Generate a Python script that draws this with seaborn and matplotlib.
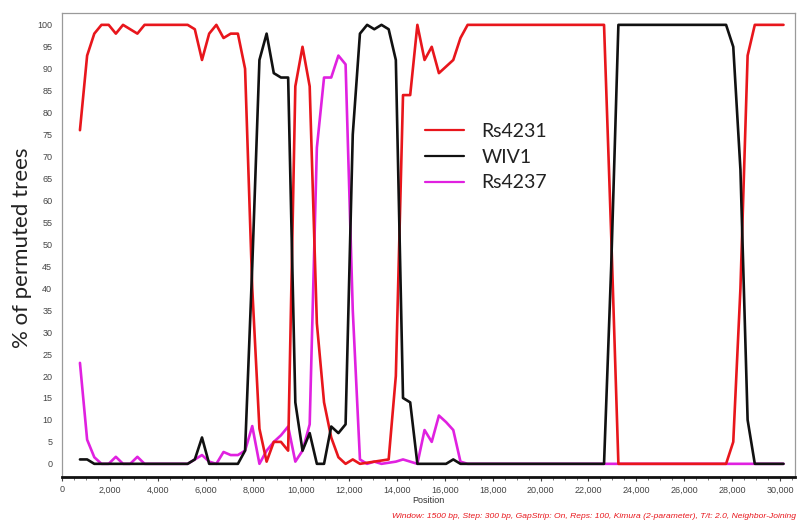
import pandas as pd
import matplotlib.pyplot as plt
import matplotlib.ticker as mticker
import seaborn as sns

RS4231_POS = [750, 1050, 1350, 1650, 1950, 2250, 2550, 2850, 3150, 3450,
              5250, 5550, 5850, 6150, 6450, 6750, 7050, 7350, 7650, 7950,
              8250, 8550, 8850, 9150, 9450, 9750, 10050, 10350, 10650, 10950,
              11250, 11550, 11850, 12150, 12450, 13650, 13950, 14250, 14550, 14850,
              15150, 15450, 15750, 16050, 16350, 16650, 16950, 22650, 22950, 23250,
              27750, 28050, 28350, 28650, 28950, 30150]
RS4231_VAL = [76, 93, 98, 100, 100, 98, 100, 99, 98, 100,
              100, 99, 92, 98, 100, 97, 98, 98, 90, 40,
              8, 0.5, 5, 5, 3, 86, 95, 86, 32, 14,
              6, 1.5, 0, 1, 0, 1, 20, 84, 84, 100,
              92, 95, 89, 90.5, 92, 97, 100, 100, 52, 0,
              0, 5, 40, 93, 100, 100]

WIV1_POS = [750, 1050, 1350, 5250, 5550, 5850, 6150, 7350, 7650, 7950,
            8250, 8550, 8850, 9150, 9450, 9750, 10050, 10350, 10650, 10950,
            11250, 11550, 11850, 12150, 12450, 12750, 13050, 13350, 13650, 13950,
            14250, 14550, 14850, 16050, 16350, 16650, 22650, 22950, 23250, 27750,
            28050, 28350, 28650, 28950, 30150]
WIV1_VAL = [1, 1, 0, 0, 1, 6, 0, 0, 3, 45,
            92, 98, 89, 88, 88, 14, 3, 7, 0, 0,
            8.5, 7, 9, 75, 98, 100, 99, 100, 99, 92,
            15, 14, 0, 0, 1, 0, 0, 45, 100, 100,
            95, 67, 10, 0, 0]

RS4237_POS = [750, 1050, 1350, 1650, 1950, 2250, 2550, 2850, 3150, 3450,
              5250, 5550, 5850, 6150, 6450, 6750, 7050, 7350, 7650, 7950,
              8250, 8550, 8850, 9150, 9450, 9750, 10050, 10350, 10650, 10950,
              11250, 11550, 11850, 12150, 12450, 12750, 13050, 13350, 13950, 14250,
              14550, 14850, 15150, 15450, 15750, 16050, 16350, 16650, 16950, 30150]
RS4237_VAL = [23, 5.5, 1.5, 0, 0, 1.6, 0, 0, 1.6, 0,
              0, 1, 2, 0.5, 0, 2.7, 2, 2, 3, 8.6,
              0, 3, 5, 6.5, 8.5, 0.5, 3, 9, 72, 88,
              88, 93, 91, 35, 1, 0, 0.5, 0, 0.5, 1,
              0.5, 0, 7.7, 5, 11, 9.5, 7.7, 0.5, 0, 0]

SERIES = ["Rs4231", "WIV1", "Rs4237"]
COLORS = {"Rs4231": "#e8161c", "WIV1": "#111111", "Rs4237": "#e021e0"}
X_TICKS = list(range(0, 30001, 2000))
Y_TICKS = list(range(0, 101, 5))
FOOTER = ("Window: 1500 bp, Step: 300 bp, GapStrip: On, Reps: 100, "
          "Kimura (2-parameter), T/t: 2.0, Neighbor-Joining")
# ==================================================================


def build_frame():
    parts = [
        pd.DataFrame({"Position": RS4231_POS, "Pct": RS4231_VAL, "Seq": "Rs4231"}),
        pd.DataFrame({"Position": WIV1_POS, "Pct": WIV1_VAL, "Seq": "WIV1"}),
        pd.DataFrame({"Position": RS4237_POS, "Pct": RS4237_VAL, "Seq": "Rs4237"}),
    ]
    return pd.concat(parts, ignore_index=True)


def main():
    df = build_frame()

    sns.set_style("white")
    plt.rcParams["font.family"] = ["Liberation Sans", "DejaVu Sans"]

    fig = plt.figure(figsize=(7.98, 5.25), dpi=100)
    ax = fig.add_axes([62 / 798, 48 / 525, 733 / 798, 464 / 525])

    # magenta underneath, black on top
    z = {"Rs4237": 2, "Rs4231": 3, "WIV1": 4}
    for name in ["Rs4237", "Rs4231", "WIV1"]:
        sns.lineplot(data=df[df["Seq"] == name], x="Position", y="Pct",
                     color=COLORS[name], linewidth=1.9, estimator=None,
                     sort=False, label=name, zorder=z[name], ax=ax)

    ax.set_xlim(0, 30630)
    ax.set_ylim(-3, 102.7)

    ax.set_xticks(X_TICKS)
    ax.set_xticklabels([f"{t:,}" for t in X_TICKS])
    ax.xaxis.set_minor_locator(mticker.MultipleLocator(500))
    ax.set_yticks(Y_TICKS)
    ax.tick_params(axis="x", which="major", length=3, width=0.8, color="#444",
                   labelsize=6.5, labelcolor="#444", pad=3, bottom=True)
    ax.tick_params(axis="x", which="minor", length=2, width=0.6, color="#666",
                   bottom=True)
    ax.tick_params(axis="y", length=0, labelsize=6.5, labelcolor="#444", pad=7)

    for side in ["top", "left", "right"]:
        ax.spines[side].set_color("#9a9a9a")
        ax.spines[side].set_linewidth(0.9)
    ax.spines["bottom"].set_color("#111111")
    ax.spines["bottom"].set_linewidth(2)

    ax.set_xlabel("Position", fontsize=6.5, color="#333", labelpad=1)
    ax.set_ylabel("")
    fig.text(22 / 798, 1 - 248 / 525, "% of permuted trees", rotation=90,
             ha="center", va="center", fontsize=16, color="#222",
             family=["Lato", "DejaVu Sans"])

    handles, labels = ax.get_legend_handles_labels()
    order = [labels.index(s) for s in SERIES]
    leg = ax.legend([handles[i] for i in order], [labels[i] for i in order],
                    loc="upper left", bbox_to_anchor=(425 / 798, 1 - 123 / 525),
                    bbox_transform=fig.transFigure, frameon=False,
                    handlelength=2.0, handletextpad=0.9, labelspacing=0.45,
                    borderpad=0, borderaxespad=0,
                    prop={"family": ["Lato", "DejaVu Sans"], "size": 14})
    for line in leg.get_lines():
        line.set_linewidth(1.6)
    for t in leg.get_texts():
        t.set_color("#222")

    fig.text(796 / 798, 1 - 517 / 525, FOOTER, ha="right", va="center",
             fontsize=6.1, style="italic", color="#e8161c")

    fig.savefig("out.png", dpi=100)


if __name__ == "__main__":
    main()
